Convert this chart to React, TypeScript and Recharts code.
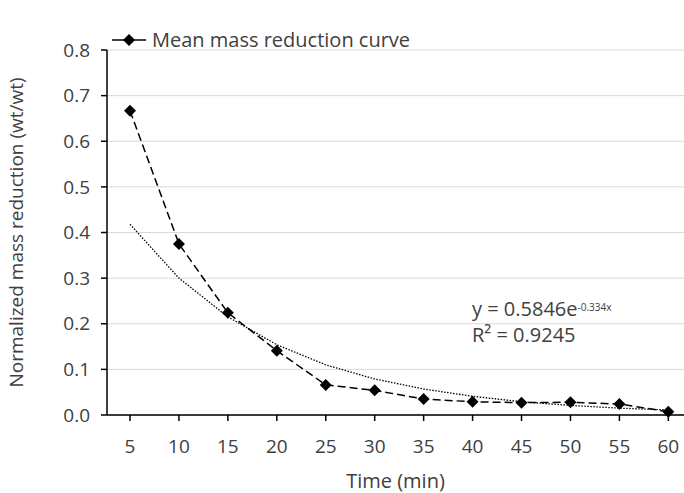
import React from 'react'
import { CartesianGrid, Label, Legend, Line, LineChart, XAxis, YAxis } from 'recharts'

const times = [5, 10, 15, 20, 25, 30, 35, 40, 45, 50, 55, 60]
const meanReduction = [0.667, 0.375, 0.224, 0.141, 0.066, 0.054, 0.035, 0.029, 0.027, 0.028, 0.024, 0.007]
const trendValues = [0.418, 0.300, 0.215, 0.154, 0.110, 0.079, 0.057, 0.041, 0.029, 0.021, 0.015, 0.011]
const yTicks = [0, 0.1, 0.2, 0.3, 0.4, 0.5, 0.6, 0.7, 0.8]

const data = times.map((t, i) => ({ t, mean: meanReduction[i], trend: trendValues[i] }))

const font = '"Open Sans", "Noto Sans", sans-serif'
const textColor = '#404040'

function Diamond(props: any) {
  const { cx, cy } = props
  if (cx == null || cy == null) return null
  const r = 6
  return (
    <polygon
      key={`d-${cx}`}
      points={`${cx},${cy - r} ${cx + r},${cy} ${cx},${cy + r} ${cx - r},${cy}`}
      fill="#000"
    />
  )
}

function LegendBox() {
  return (
    <div style={{ display: 'flex', alignItems: 'center', fontFamily: font, fontSize: 20, color: textColor, whiteSpace: 'nowrap' }}>
      <svg width={34} height={16}>
        <line x1={0} y1={8} x2={34} y2={8} stroke="#000" strokeWidth={1.5} />
        <polygon points="17,2 23,8 17,14 11,8" fill="#000" />
      </svg>
      <span style={{ marginLeft: 6 }}>Mean mass reduction curve</span>
    </div>
  )
}

export default function App() {
  return (
    <div style={{ position: 'relative', width: 684, height: 493, background: '#fff', overflow: 'hidden' }}>
      <style>{'body{margin:0}'}</style>
      <LineChart width={684} height={493} data={data} margin={{ top: 23, right: 0, bottom: 0, left: 0 }}>
        <CartesianGrid vertical={false} stroke="#d9d9d9" />
        <XAxis
          dataKey="t"
          type="number"
          domain={[2.65, 61.6]}
          ticks={times}
          interval={0}
          height={78}
          stroke="#000"
          strokeWidth={1.5}
          tickSize={6}
          tickMargin={19}
          tick={{ fill: textColor, fontSize: 19, fontFamily: font }}
        >
          <Label value="Time (min)" position="insideBottom" offset={5} fill={textColor} fontSize={20} fontFamily={font} />
        </XAxis>
        <YAxis
          domain={[0, 0.8]}
          ticks={yTicks}
          width={107}
          stroke="#000"
          strokeWidth={1.5}
          tickSize={6}
          tickMargin={11}
          tickFormatter={(v: number) => v.toFixed(1)}
          tick={{ fill: textColor, fontSize: 19, fontFamily: font }}
        >
          <Label
            value="Normalized mass reduction (wt/wt)"
            angle={-90}
            position="insideLeft"
            offset={16}
            style={{ textAnchor: 'middle' }}
            fill={textColor}
            fontSize={19}
            fontFamily={font}
          />
        </YAxis>
        <Legend
          verticalAlign="top"
          align="left"
          wrapperStyle={{ top: 26, left: 112, width: 'auto' }}
          content={() => <LegendBox />}
        />
        <Line
          dataKey="trend"
          stroke="#000"
          strokeWidth={1.3}
          strokeDasharray="1.5 1.5"
          dot={false}
          activeDot={false}
          isAnimationActive={false}
          legendType="none"
        />
        <Line
          dataKey="mean"
          stroke="#000"
          strokeWidth={1.5}
          strokeDasharray="8 4"
          dot={<Diamond />}
          activeDot={false}
          isAnimationActive={false}
        />
      </LineChart>
      <div style={{ position: 'absolute', left: 472, top: 296, fontFamily: font, fontSize: 20, color: textColor, lineHeight: '26px', whiteSpace: 'nowrap' }}>
        <div>
          y = 0.5846e<sup style={{ fontSize: 10, verticalAlign: 'top', position: 'relative', top: -2 }}>-0.334x</sup>
        </div>
        <div>R² = 0.9245</div>
      </div>
    </div>
  )
}
